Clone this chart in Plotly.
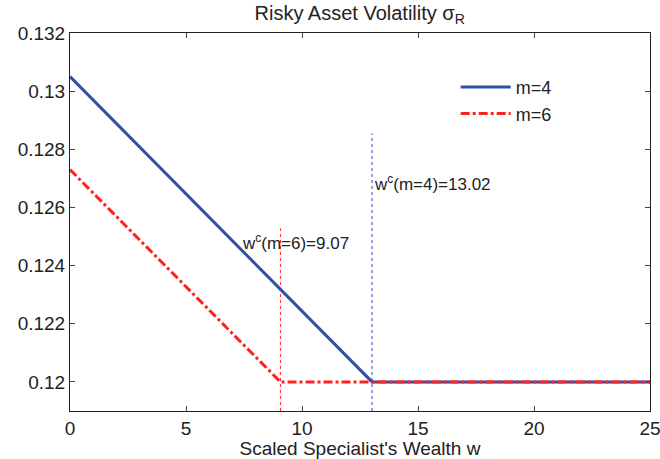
import plotly.graph_objects as go

# Data
w_m4 = [0, 13.02, 25]
sigma_m4 = [0.1305, 0.12, 0.12]
w_m6 = [0, 9.07, 25]
sigma_m6 = [0.1273, 0.12, 0.12]
wc_m4 = 13.02
wc_m6 = 9.07
wc_top_m4 = 0.12855
wc_top_m6 = 0.12528
x_ticks = [0, 5, 10, 15, 20, 25]
y_ticks = [0.12, 0.122, 0.124, 0.126, 0.128, 0.13, 0.132]
y_tick_labels = ["0.12", "0.122", "0.124", "0.126", "0.128", "0.13", "0.132"]

BLUE = "#3050A8"
RED = "#FF2020"
FONT = "Liberation Sans, Arial, sans-serif"

fig = go.Figure()

# vertical dotted markers
fig.add_trace(go.Scatter(x=[wc_m6, wc_m6], y=[0.119, wc_top_m6], mode="lines",
                         line=dict(color=RED, width=1, dash="dot"), showlegend=False))
fig.add_trace(go.Scatter(x=[wc_m4, wc_m4], y=[0.119, wc_top_m4], mode="lines",
                         line=dict(color=BLUE, width=1, dash="dot"), showlegend=False))

fig.add_trace(go.Scatter(x=w_m4, y=sigma_m4, mode="lines", name="m=4",
                         line=dict(color=BLUE, width=3)))
fig.add_trace(go.Scatter(x=w_m6, y=sigma_m6, mode="lines", name="m=6",
                         line=dict(color=RED, width=3, dash="dashdot")))

fig.add_annotation(x=wc_m4, y=0.12683, text="w<sup>c</sup>(m=4)=13.02", showarrow=False,
                   xanchor="left", yanchor="middle", font=dict(size=17, color="#222", family=FONT))
fig.add_annotation(x=7.33, y=0.1248, text="w<sup>c</sup>(m=6)=9.07", showarrow=False,
                   xanchor="left", yanchor="middle", font=dict(size=17, color="#222", family=FONT))

fig.update_layout(
    width=660, height=459,
    margin=dict(l=70, r=10, t=33, b=48, autoexpand=False),
    paper_bgcolor="white", plot_bgcolor="white",
    font=dict(family=FONT, size=19, color="#222"),
    title=dict(text="Risky Asset Volatility σ<sub>R</sub>", x=0.545, xanchor="center",
               y=0.972, yanchor="middle", font=dict(size=20, family=FONT, color="#222")),
    legend=dict(x=0.665, y=0.905, xanchor="left", yanchor="top", bgcolor="rgba(0,0,0,0)",
                font=dict(size=18, family=FONT), tracegroupgap=0, itemwidth=50),
    showlegend=True,
)
fig.update_xaxes(range=[0, 25], tickvals=x_ticks, ticks="inside", ticklen=5,
                 showline=True, linecolor="#222", linewidth=1, mirror="allticks",
                 showgrid=False, zeroline=False, tickfont=dict(size=19), automargin=False,
                 ticklabeloverflow="allow",
                 title=dict(text="Scaled Specialist's Wealth w", standoff=2, font=dict(size=19)))
fig.update_yaxes(range=[0.119, 0.132], tickvals=y_ticks, ticktext=y_tick_labels,
                 ticks="inside", ticklen=5, showline=True, linecolor="#222", linewidth=1,
                 mirror="allticks", showgrid=False, zeroline=False, tickfont=dict(size=19),
                 automargin=False, ticklabeloverflow="allow")

fig.write_html("out.html")
